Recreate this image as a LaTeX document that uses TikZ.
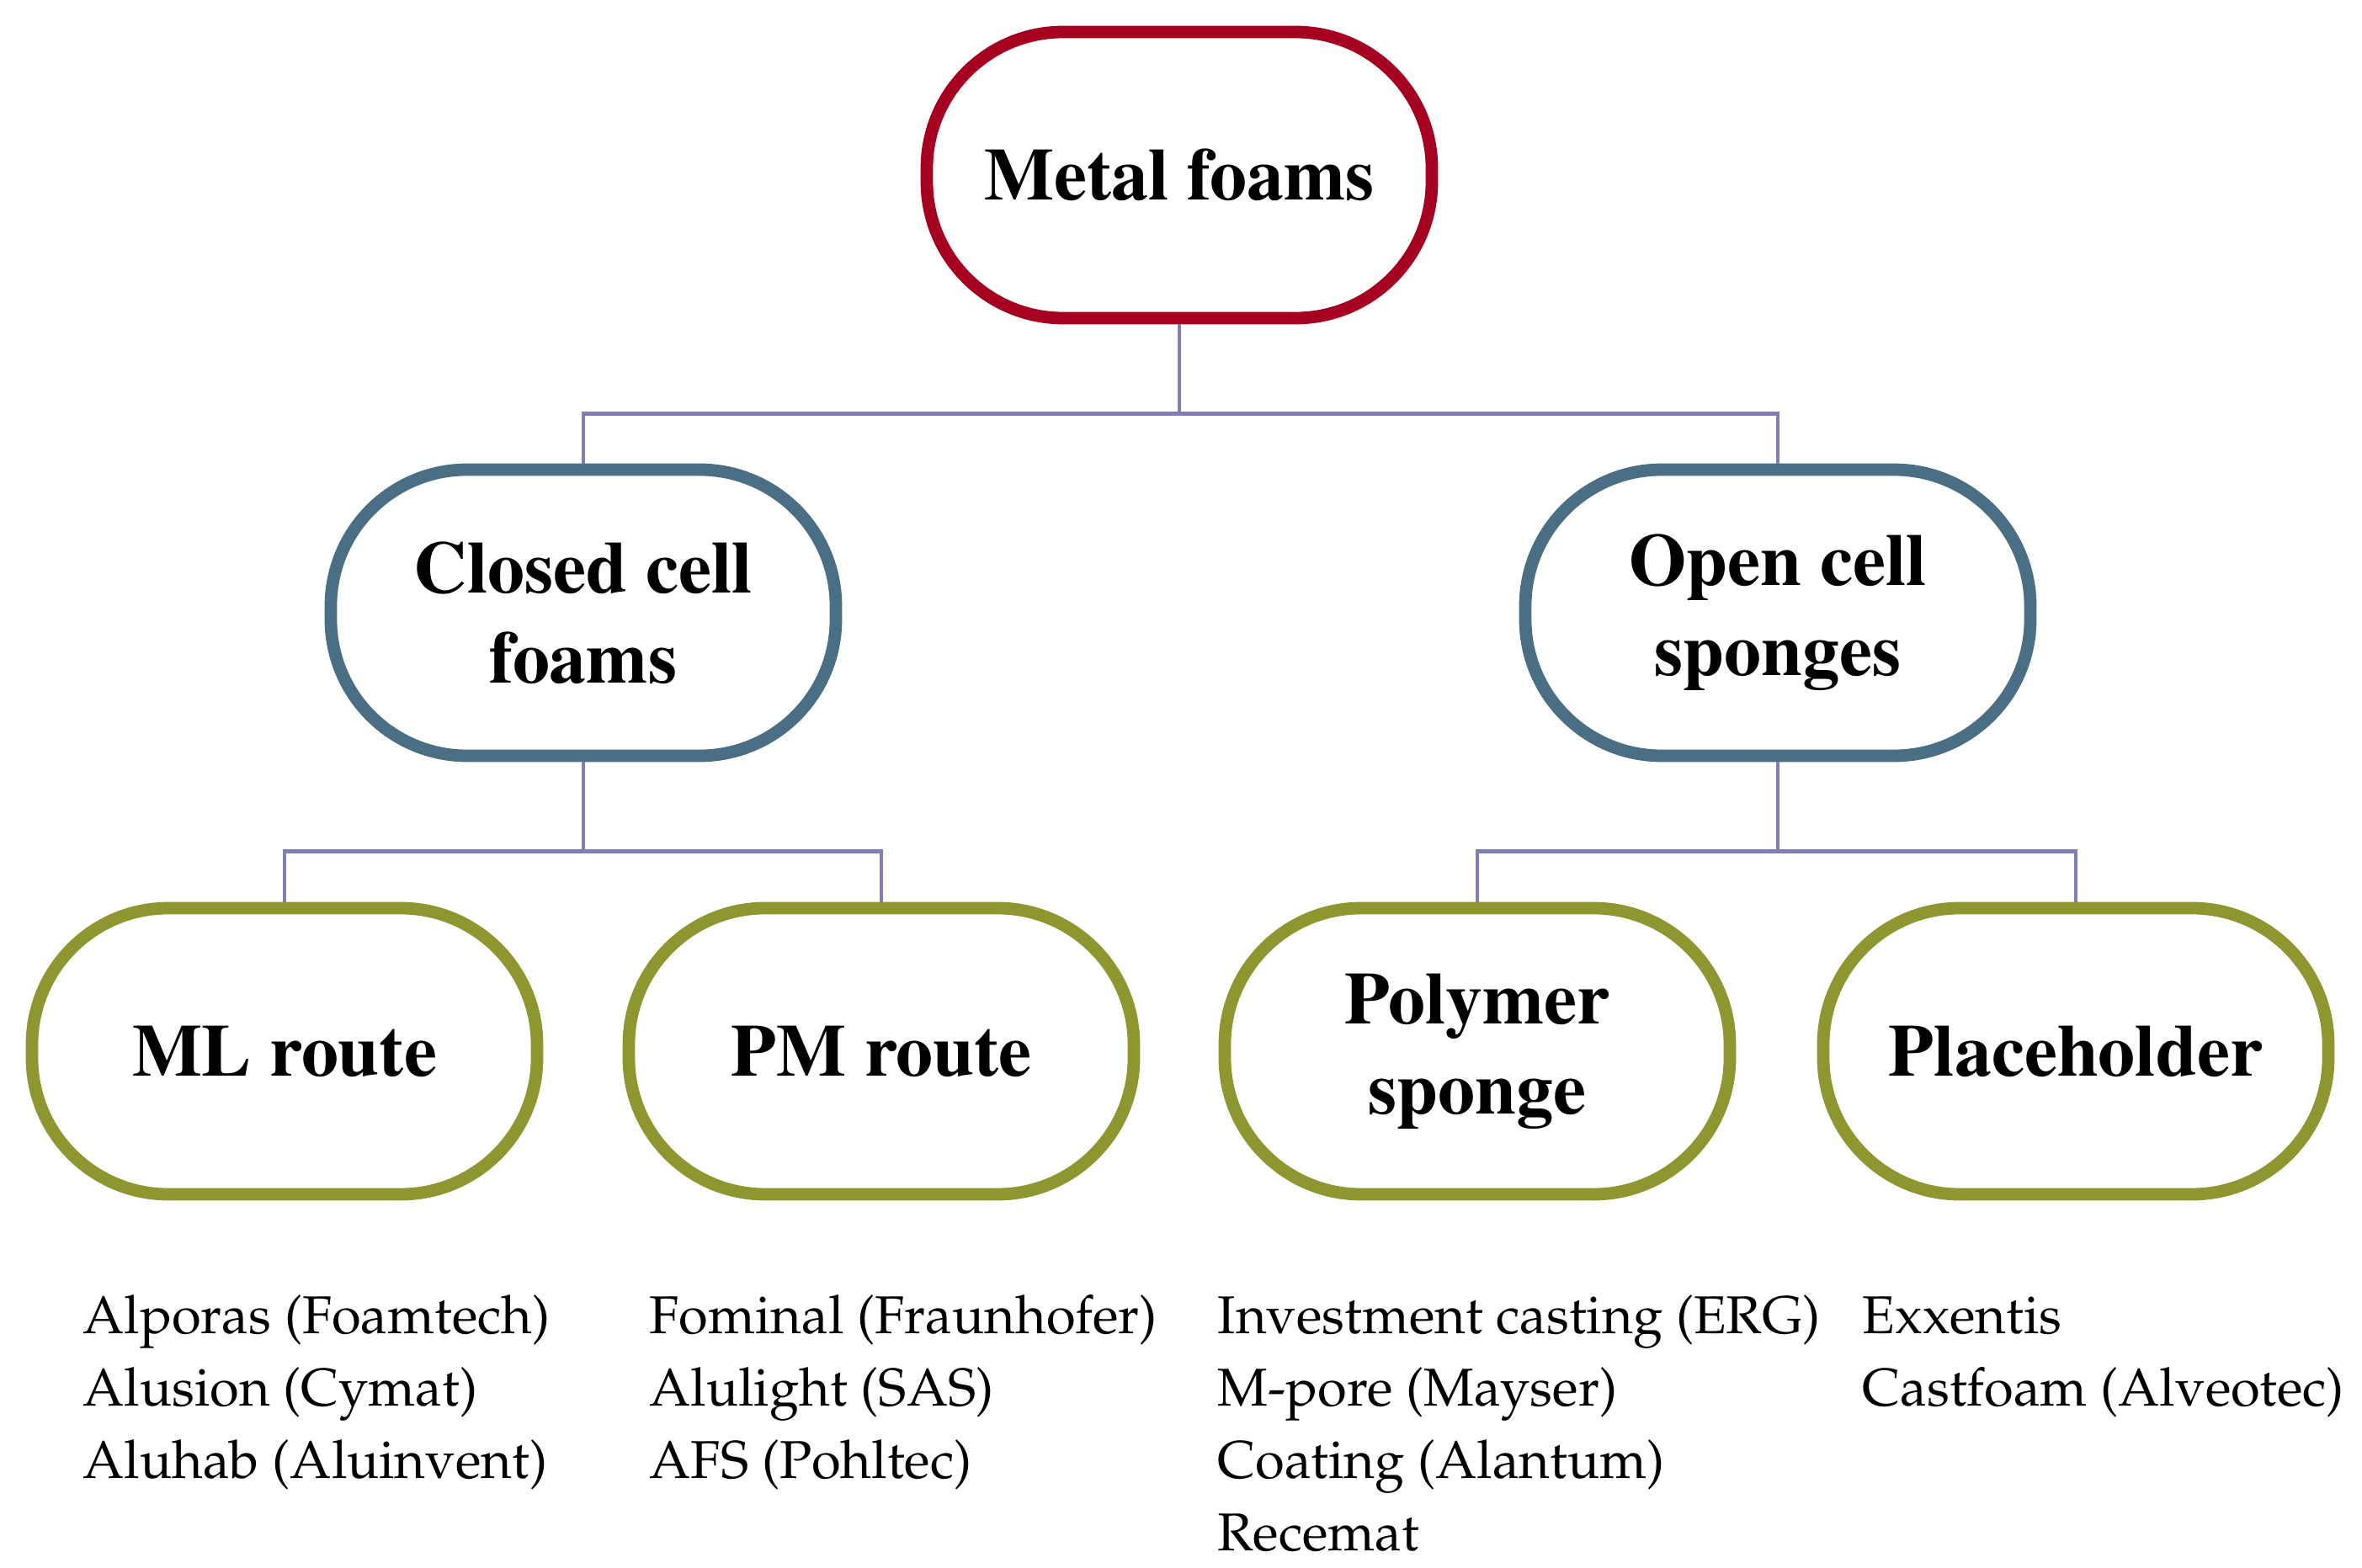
\documentclass[tikz,border=0pt]{standalone}
\usepackage[T1]{fontenc}
\usepackage{xcolor}
\usetikzlibrary{calc}

\definecolor{foamred}{HTML}{A5001F}
\definecolor{cellblue}{HTML}{4A6E84}
\definecolor{routeolive}{HTML}{8E9630}
\definecolor{linkblue}{HTML}{7F7FB5}

\newcommand{\boxfont}{\fontfamily{ptm}\bfseries\fontsize{25}{30.5}\selectfont}
\newcommand{\itemfont}{\fontfamily{ppl}\selectfont\fontsize{18}{24.4}\selectfont}

\tikzset{
  pill/.style={draw, line width=4.2pt, rounded corners=1.62cm, fill=white,
    minimum width=6.0cm, minimum height=3.4cm, align=center, inner sep=0pt,
    font=\boxfont},
  link/.style={draw=linkblue, line width=1.4pt},
  items/.style={anchor=base west, align=left, inner sep=0pt, font=\itemfont}
}

\begin{document}
\begin{tikzpicture}
    \useasboundingbox (0,0) rectangle (28.06,-18.63);

    % Top level
    \node[pill, draw=foamred] (metal) at (14.01,-2.08) {Metal foams};

    % Cell types
    \node[pill, draw=cellblue] (closed) at (6.93,-7.28) {Closed cell\\foams};
    \node[pill, draw=cellblue] (open) at (21.12,-7.28) {Open cell\\sponges};

    % Routes
    \node[pill, draw=routeolive] (ml) at (3.38,-12.49) {ML route};
    \node[pill, draw=routeolive] (pm) at (10.47,-12.49) {PM route};
    \node[pill, draw=routeolive] (polymer) at (17.55,-12.49) {Polymer\\sponge};
    \node[pill, draw=routeolive] (placeholder) at (24.66,-12.49) {Placeholder};

    % Connectors
    \draw[link] (metal.south) -- ++(0,-1.06) -| (closed.north);
    \draw[link] (metal.south) -- ++(0,-1.06) -| (open.north);
    \draw[link] (closed.south) -- ++(0,-1.06) -| (ml.north);
    \draw[link] (closed.south) -- ++(0,-1.06) -| (pm.north);
    \draw[link] (open.south) -- ++(0,-1.06) -| (polymer.north);
    \draw[link] (open.south) -- ++(0,-1.06) -| (placeholder.north);

    % Products (anchored on the baseline of the last line)
    \node[items] (mlitems) at (0.98,-17.56)
        {Alporas (Foamtech)\\Alusion (Cymat)\\Aluhab (Aluinvent)};
    \node[items] (pmitems) at (7.71,-17.56)
        {Fominal (Fraunhofer)\\Alulight (SAS)\\AFS (Pohltec)};
    \node[items] (polymeritems) at (14.46,-18.42)
        {Investment casting (ERG)\\M-pore (Mayser)\\Coating (Alantum)\\Recemat};
    \node[items] (placeholderitems) at (22.12,-16.70)
        {Exxentis\\Castfoam (Alveotec)};
\end{tikzpicture}
\end{document}
